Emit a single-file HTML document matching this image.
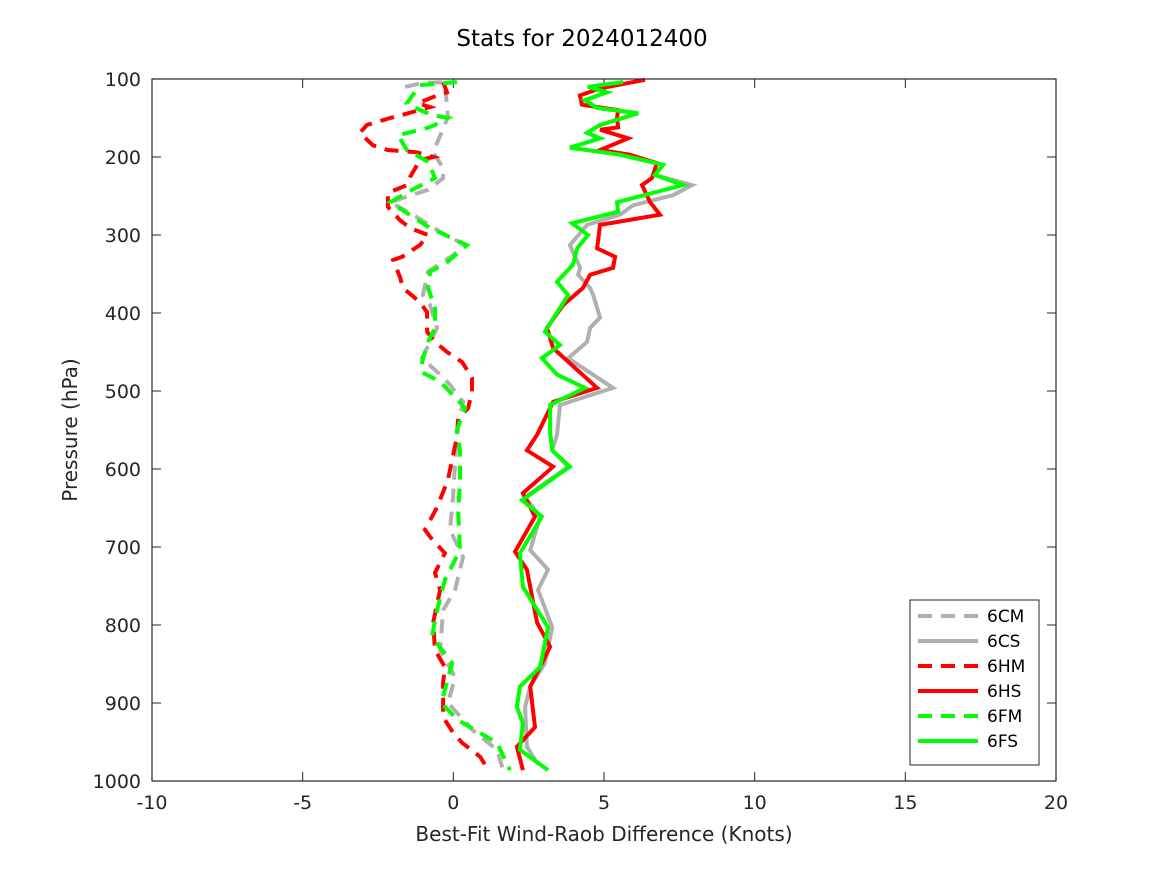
<!DOCTYPE html>
<html><head><meta charset="utf-8"><style>
body{margin:0;background:#fff;}
svg{display:block;font-family:"DejaVu Sans","Liberation Sans",sans-serif;}
</style></head><body>
<svg id="chart" width="1167" height="875" xmlns="http://www.w3.org/2000/svg">
<rect width="1167" height="875" fill="#fff"/>
<text x="582" y="46" font-size="23" text-anchor="middle" fill="#000">Stats for 2024012400</text>
<g id="grid"></g>
<g id="series"></g>
<rect x="152" y="79" width="904" height="702" fill="none" stroke="#262626" stroke-width="1.2"/>
<text x="604" y="841" font-size="20" text-anchor="middle" fill="#262626">Best-Fit Wind-Raob Difference (Knots)</text>
<text transform="translate(77,430) rotate(-90)" font-size="20" text-anchor="middle" fill="#262626">Pressure (hPa)</text>
<g id="legend"></g>
</svg>
<script>
const xTicks=[-10,-5,0,5,10,15,20];
const yTicks=[100,200,300,400,500,600,700,800,900,1000];
const seriesNames=["6CM","6CS","6HM","6HS","6FM","6FS"];
const seriesColors=["#b0b0b0","#b0b0b0","#ff0000","#ff0000","#00ff00","#00ff00"];
const seriesDashed=[true,false,true,false,true,false];

const p6FS=[104,110,117,127,137,144,159,169,176,188,197,210,223,236,258,270,285,300,317,338,360,377,424,441,458,479,496,518,553,576,597,640,661,708,751,803,854,879,905,926,960,986];
const v6FS=[5.63,4.47,5.10,4.37,4.77,6.13,4.87,4.44,4.87,3.87,5.53,6.96,6.69,7.62,5.43,5.47,3.94,4.47,4.11,3.97,3.44,3.81,3.04,3.54,2.94,3.44,4.37,3.21,3.21,3.28,3.87,2.28,2.94,2.21,2.31,3.14,2.88,2.21,2.11,2.31,2.21,3.14];

const p6CS=[104,110,117,127,137,144,159,169,176,188,197,210,223,236,249,262,274,287,313,322,342,351,368,377,406,419,437,458,496,518,556,576,597,636,661,704,729,755,803,849,879,905,956,977];
const v6CS=[5.63,4.47,5.10,4.37,4.77,6.13,4.87,4.44,4.87,3.87,5.53,6.96,6.69,7.92,7.29,5.96,5.53,4.44,3.87,3.97,4.21,4.14,4.54,4.64,4.87,4.54,4.44,3.81,5.30,3.54,3.44,3.28,3.81,2.38,2.88,2.55,3.14,2.81,3.28,3.04,2.55,2.38,2.44,2.78];

const p6HS=[101,112,121,133,140,150,162,165,176,191,197,208,227,236,258,274,287,317,328,342,351,368,390,419,445,496,514,556,576,597,631,661,706,729,797,828,879,931,956,986];
const v6HS=[6.36,4.87,4.20,4.27,5.47,5.43,5.47,4.87,5.80,4.87,5.86,6.76,6.59,6.26,6.53,6.86,4.87,4.77,5.37,5.30,4.54,4.30,3.64,3.11,3.31,4.77,3.31,2.78,2.44,3.31,2.31,2.71,2.05,2.44,2.78,3.21,2.55,2.71,2.11,2.31];

const p6FM=[104,108,131,137,146,150,156,163,172,191,206,227,242,258,291,313,335,347,368,394,419,437,463,476,488,505,522,550,576,614,656,704,742,781,815,849,892,905,922,951,986];
const v6FM=[0.12,-1.11,-1.54,-1.27,-0.71,-0.18,-0.44,-0.87,-1.84,-1.54,-0.84,-0.61,-1.37,-2.10,-0.77,0.45,-0.21,-0.77,-0.84,-0.61,-0.61,-0.84,-1.04,-1.04,-0.44,-0.01,0.39,0.12,0.22,0.22,0.16,0.22,-0.28,-0.54,-0.71,-0.04,-0.34,-0.28,0.16,1.45,1.88];

const p6CM=[110,105,104,149,194,214,227,242,258,274,296,313,326,347,377,390,419,458,479,492,514,553,592,636,678,713,755,781,832,867,900,935,960,986];
const v6CM=[-1.60,-1.01,-0.28,-0.18,-0.67,-0.34,-0.34,-0.84,-2.10,-1.34,-0.44,0.39,-0.01,-0.84,-1.01,-0.77,-0.54,-1.04,-0.44,-0.11,0.32,0.12,0.06,-0.01,-0.11,0.32,0.06,-0.34,-0.44,0.06,-0.18,0.65,1.45,1.65];

const p6HM=[104,117,121,131,136,146,150,159,169,185,191,194,200,204,226,236,246,264,281,291,300,313,328,332,354,368,386,399,424,437,450,463,483,501,522,535,559,614,649,678,687,708,733,755,797,832,854,874,918,938,951,969,983];
const v6HM=[-0.34,-0.21,-0.54,-1.17,-0.77,-1.70,-2.10,-2.87,-3.10,-2.67,-2.17,-1.21,-0.67,-1.11,-1.44,-1.54,-2.17,-2.17,-1.77,-1.44,-0.84,-1.11,-1.70,-2.00,-1.77,-1.67,-1.11,-0.87,-0.87,-0.61,-0.21,0.29,0.62,0.62,0.49,0.16,0.12,-0.18,-0.54,-0.94,-0.77,-0.28,-0.61,-0.44,-0.67,-0.61,-0.28,-0.34,-0.34,-0.01,0.29,0.89,1.11];

const X0=152,X1=1056,Y0=79,Y1=781;
function xs(v){return X0+(v-(-10))/(20-(-10))*(X1-X0);}
function ys(p){return Y0+(p-100)/(1000-100)*(Y1-Y0);}
const NS="http://www.w3.org/2000/svg";
const grid=document.getElementById('grid');
function mk(tag,attrs,parent){const e=document.createElementNS(NS,tag);for(const k in attrs)e.setAttribute(k,attrs[k]);parent.appendChild(e);return e;}

xTicks.forEach(t=>{
  const x=xs(t);
  const a=mk('line',{x1:x,x2:x,y1:Y1,y2:Y1-9,stroke:'#262626','stroke-width':1},grid);
  
  
  const b=mk('line',{x1:x,x2:x,y1:Y0,y2:Y0+9,stroke:'#262626','stroke-width':1},grid);
  
  
  const tx=mk('text',{x:x,y:Y1+28,'font-size':19,'text-anchor':'middle',fill:'#262626'},grid);
  tx.textContent=t;
  
  
});
yTicks.forEach(t=>{
  const y=ys(t);
  const a=mk('line',{x1:X0,x2:X0+9,y1:y,y2:y,stroke:'#262626','stroke-width':1},grid);
  
  
  const b=mk('line',{x1:X1,x2:X1-9,y1:y,y2:y,stroke:'#262626','stroke-width':1},grid);
  
  
  const tx=mk('text',{x:X0-11,y:y+7,'font-size':19,'text-anchor':'end',fill:'#262626'},grid);
  tx.textContent=t;
  
  
});

const seriesP=[p6CM,p6CS,p6HM,p6HS,p6FM,p6FS];
const seriesV=[v6CM,v6CS,v6HM,v6HS,v6FM,v6FS];
const sg=document.getElementById('series');
const order=[1,3,5,0,2,4];
order.forEach(i=>{
  const pts=seriesP[i].map((p,j)=>xs(seriesV[i][j]).toFixed(1)+','+ys(p).toFixed(1)).join(' ');
  const pl=mk('polyline',{points:pts,fill:'none',stroke:seriesColors[i],'stroke-width':4,'stroke-linejoin':'miter'},sg);
  if(seriesDashed[i])pl.setAttribute('stroke-dasharray','14 9');
  
  
});

const lg=document.getElementById('legend');
const box=mk('rect',{x:910,y:600,width:129,height:165,fill:'#fff',stroke:'#262626','stroke-width':1},lg);


seriesNames.forEach((n,i)=>{
  const y=616+i*25;
  const g=mk('g',{},lg);
  
  
  const l=mk('line',{x1:918,x2:978,y1:y,y2:y,stroke:seriesColors[i],'stroke-width':4},g);
  if(seriesDashed[i])l.setAttribute('stroke-dasharray','14 9');
  const t=mk('text',{x:987,y:y+6,'font-size':17,fill:'#000'},g);
  t.textContent=n;
});
</script>
</body></html>
